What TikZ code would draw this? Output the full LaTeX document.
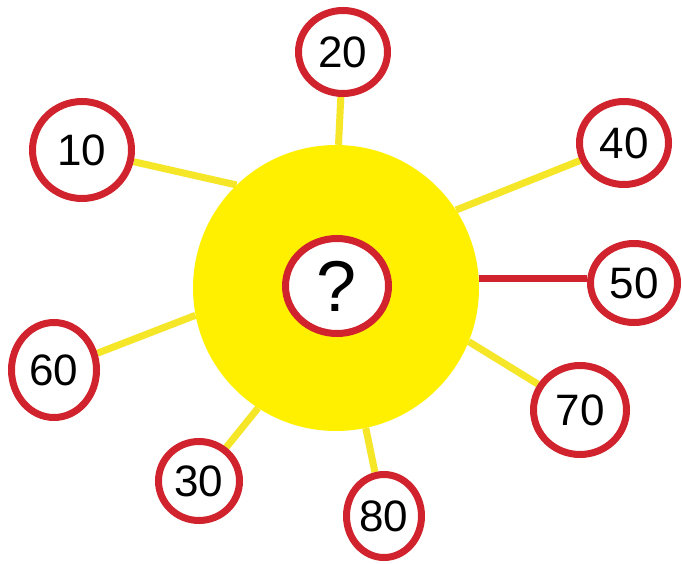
\documentclass[tikz,border=0pt]{standalone}
\usepackage{fontspec}
\setmainfont{Liberation Sans}
\usetikzlibrary{shapes.geometric,backgrounds}
\definecolor{sunyellow}{RGB}{255,240,0}
\definecolor{rayyellow}{RGB}{245,230,40}
\definecolor{ringred}{RGB}{208,35,45}
\begin{document}
\begin{tikzpicture}[x=1pt,y=-1pt,
  num/.style={ellipse, draw=ringred, line width=7pt, fill=white, inner sep=0pt,
    font=\fontsize{44}{44}\selectfont},
  ray/.style={draw=rayyellow, line width=7pt},
  redray/.style={draw=ringred, line width=7pt}]
\useasboundingbox (0,0) rectangle (682,564);
\node[circle, fill=sunyellow, minimum size=286pt, inner sep=0pt] (sun) at (336,288) {};
\node[num, minimum width=89pt, minimum height=83pt] (c20) at (343,52) {20};
\node[num, minimum width=99pt, minimum height=97pt] (c10) at (82,150) {10};
\node[num, minimum width=89pt, minimum height=83pt] (c40) at (624,143) {40};
\node[num, minimum width=87pt, minimum height=79pt] (c50) at (634,283) {50};
\node[num, minimum width=85pt, minimum height=95pt] (c60) at (54,370) {60};
\node[num, minimum width=93pt, minimum height=89pt] (c70) at (580,410) {70};
\node[num, minimum width=81pt, minimum height=79pt] (c30) at (199,481) {30};
\node[num, minimum width=75pt, minimum height=83pt] (c80) at (384,516) {80};
\node[num, minimum width=103pt, minimum height=95pt, font=\fontsize{72}{72}\selectfont] (q) at (337,286) {?};
\begin{scope}[on background layer]
\fill[white] (0,0) rectangle (682,564);
\draw[ray] (c20) -- (sun.89);
\draw[ray] (c10) -- (sun.134);
\draw[ray] (c40) -- (sun.33);
\draw[redray] (sun.4) -- (c50.west |- sun.4);
\draw[ray] (c70) -- (sun.-22);
\draw[ray] (c80) -- (sun.-78);
\draw[ray] (c30) -- (sun.-123);
\draw[ray] (c60) -- (sun.-169);
\end{scope}
\end{tikzpicture}
\end{document}
